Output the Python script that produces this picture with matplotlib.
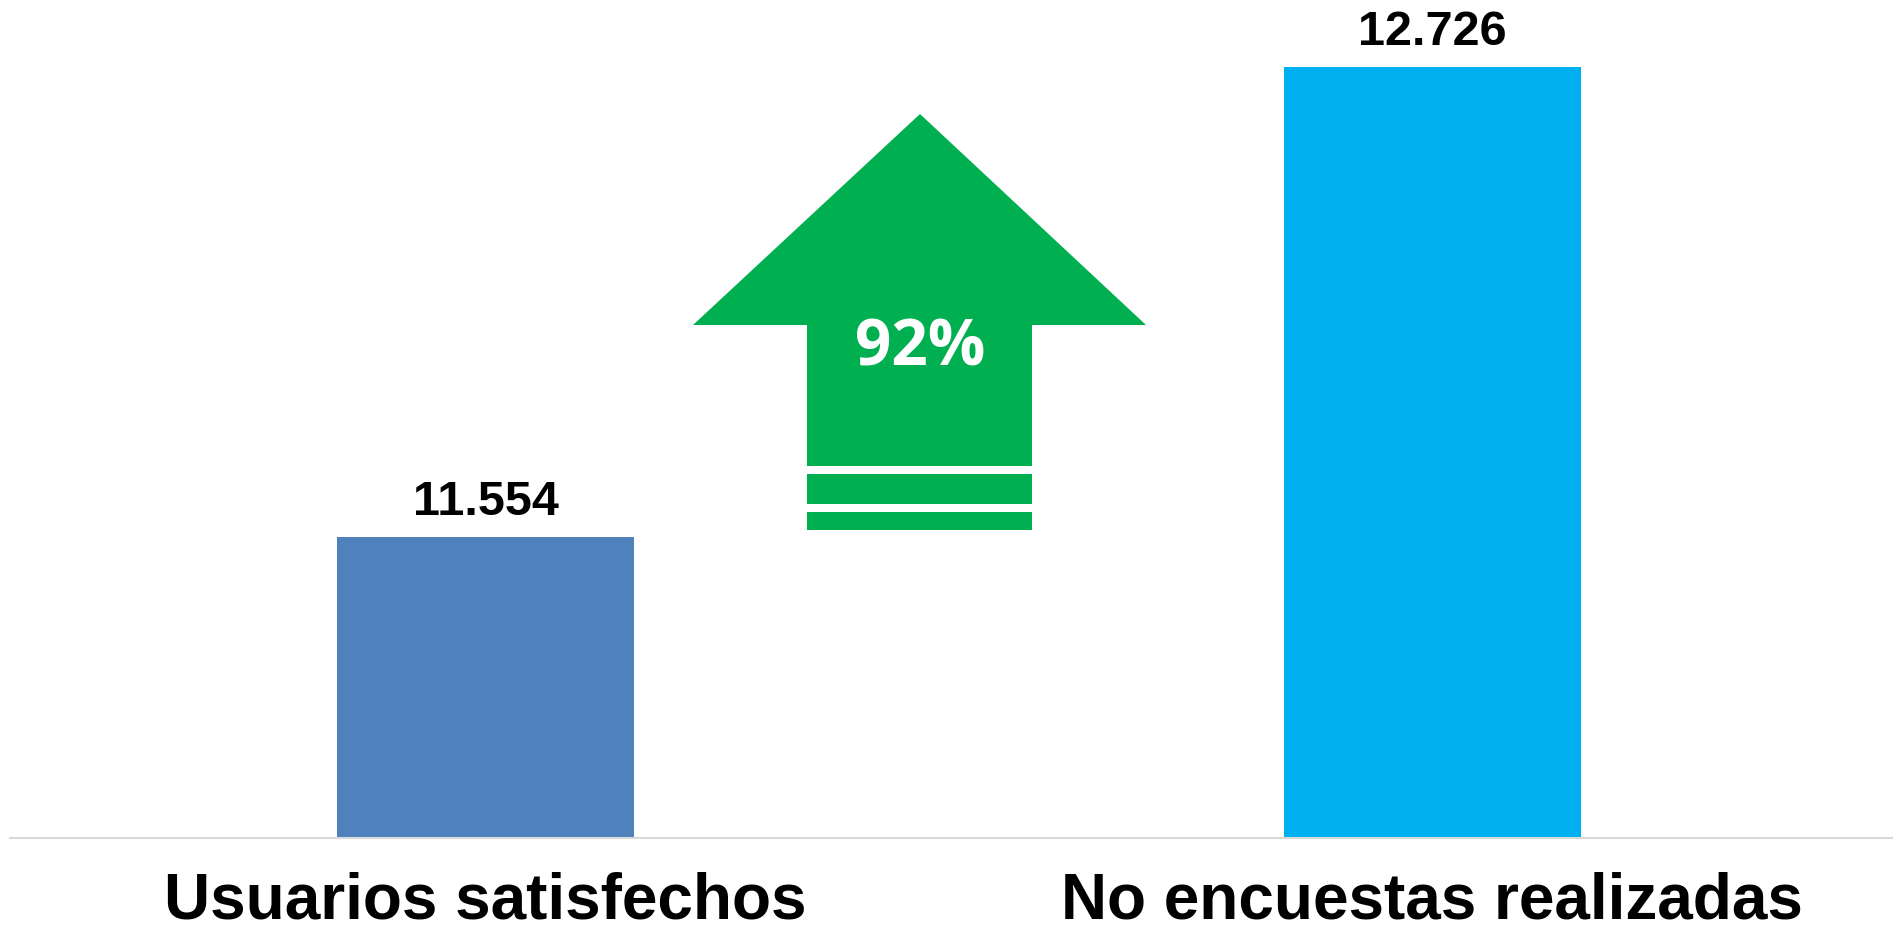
import matplotlib
matplotlib.use("Agg")
import matplotlib.pyplot as plt
from matplotlib.patches import Polygon, Rectangle

categories = ["Usuarios satisfechos", "No encuestas realizadas"]
values = [11554, 12726]
value_labels = ["11.554", "12.726"]
bar_colors = ["#4F81BD", "#00B0F0"]
pct_label = "92%"

W, H = 1893, 934
fig = plt.figure(figsize=(W / 100, H / 100), dpi=100)
ax = fig.add_axes([10 / W, 1 - 838 / H, 1 - 10 / W, 838 / H])

x = list(range(len(categories)))
ax.bar(x, values, width=0.314, color=bar_colors, zorder=2)
ax.set_xlim(-0.5026, 1.487)
ax.set_ylim(10804, 12894)

for xi, v, lab in zip(x, values, value_labels):
    ax.annotate(lab, (xi, v), xytext=(0, 9), textcoords="offset points",
                ha="center", va="bottom", fontsize=35, fontweight="bold",
                family="Liberation Sans", color="black")

for s in ["top", "right", "left"]:
    ax.spines[s].set_visible(False)
ax.spines["bottom"].set_color("#D9D9D9")
ax.spines["bottom"].set_linewidth(1.5)
ax.set_yticks([])
ax.set_xticks(x)
ax.set_xticklabels(categories, fontsize=46, fontweight="bold", family="Liberation Sans")
ax.tick_params(axis="x", length=0, pad=24)

# Decorative arrow in figure pixel space (top-left origin)
def fp(px, py):
    return (px / W, 1 - py / H)

green = "#00B050"
head = [fp(920, 114), fp(1146, 325), fp(1032, 325), fp(1032, 466),
        fp(807, 466), fp(807, 325), fp(693, 325)]
fig.patches.append(Polygon(head, closed=True, transform=fig.transFigure,
                           facecolor=green, edgecolor="none"))
for y0, y1 in [(474, 504), (512, 530)]:
    x0, yb = fp(807, y1)
    fig.patches.append(Rectangle((x0, yb), (1032 - 807) / W, (y1 - y0) / H,
                                 transform=fig.transFigure, facecolor=green,
                                 edgecolor="none"))
fig.text(920 / W, 1 - 349 / H, pct_label, ha="center", va="center",
         fontsize=46, fontweight="bold", family="Open Sans", color="white")

fig.savefig("out.png", dpi=100)
